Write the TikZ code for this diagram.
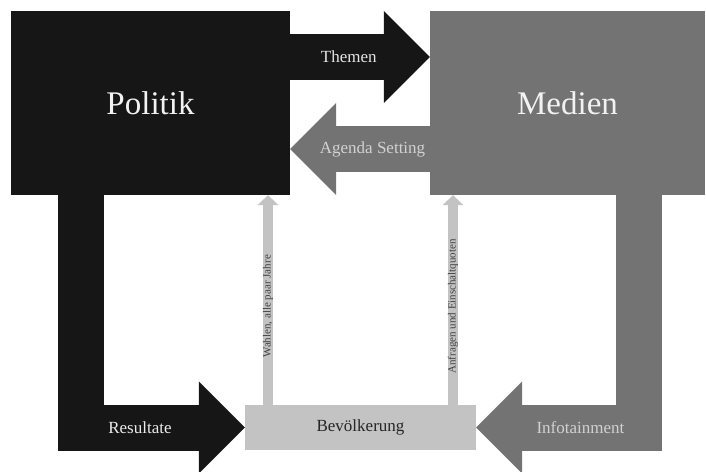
\documentclass[tikz,border=0pt]{standalone}
\usepackage{fontspec}
\setmainfont{Liberation Serif}
\usetikzlibrary{arrows.meta}
\definecolor{dunkel}{HTML}{161616}
\definecolor{mittel}{HTML}{737373}
\definecolor{hell}{HTML}{C3C3C3}
\begin{document}
\begin{tikzpicture}[x=1pt,y=1pt,
                    box/.style={rectangle,inner sep=0pt},
                    gross/.style={font=\fontsize{33}{40}\selectfont,text=white!95!black},
                    mitte/.style={font=\fontsize{17}{20}\selectfont},
                    block/.style={line width=46pt,-{Triangle[width=92pt,length=46pt,line width=0pt]}},
                    duenn/.style={draw=hell,line width=10pt,-{Triangle[width=21pt,length=10pt,line width=0pt]}},
                    klein/.style={font=\fontsize{11}{12}\selectfont,text=black!75,sloped,pos=0.47}]
                    \useasboundingbox (0,0) rectangle (706,471);
                    %NODE
                    \node[box,fill=dunkel,minimum width=279pt,minimum height=184pt,gross] (P) at (150.5,368){Politik};
                    \node[box,fill=mittel,minimum width=275pt,minimum height=184pt,gross] (M) at (567.5,368){Medien};
                    \node[box,fill=hell,minimum width=231pt,minimum height=45pt,mitte,text=black!85] (B) at (360.5,43.5){Bevölkerung};
                    \coordinate (r) at (81,0);
                    \coordinate (i) at (639,0);
                    \coordinate (w) at (268,0);
                    \coordinate (a) at (453,0);
                    
                    %EDGE
                    \draw[block,dunkel] ([yshift=46pt]P.east) -- node[pos=0.42,mitte,text=white!90!black]{Themen} ([yshift=46pt]M.west);
                    \draw[block,mittel] ([yshift=-46pt]M.west) -- node[pos=0.41,mitte,text=white!82!black]{Agenda Setting} ([yshift=-46pt]P.east);
                    \draw[block,dunkel] (P.south -| r) |- node[pos=0.68,mitte,text=white!92!black]{Resultate} (B.west);
                    \draw[block,mittel] (M.south -| i) |- node[pos=0.68,mitte,text=white!82!black]{Infotainment} (B.east);
                    \draw[duenn] (B.north -| w) -- node[klein]{Wahlen, alle paar Jahre} (P.south -| w);
                    \draw[duenn] (B.north -| a) -- node[klein]{Anfragen und Einschaltquoten} (M.south -| a);
                \end{tikzpicture}
\end{document}
